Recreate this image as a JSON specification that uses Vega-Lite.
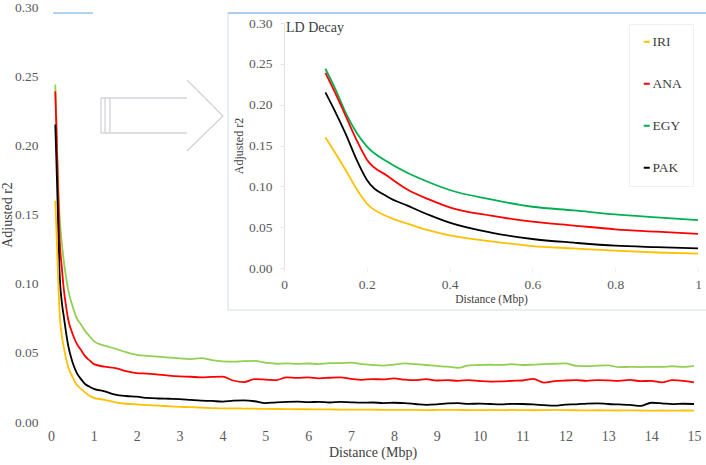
{
  "$schema": "https://vega.github.io/schema/vega-lite/v6.json",
  "width": 643,
  "height": 415,
  "autosize": {"type": "none"},
  "padding": {"left": 51, "top": 7, "right": 12, "bottom": 43},
  "background": "white",
  "config": {
    "view": {"stroke": null},
    "font": "Liberation Serif",
    "axis": {"grid": false, "labelFont": "Liberation Serif", "titleFont": "Liberation Serif", "titleFontWeight": "normal", "labelColor": "#595959", "titleColor": "#404040", "labelFlush": false},
    "legend": {"labelFont": "Liberation Serif"}
  },
  "datasets": {
    "ld": [
      {"s":"EGY","x":0.1,"y":0.244},{"s":"EGY","x":0.125,"y":0.218},{"s":"EGY","x":0.15,"y":0.189},{"s":"EGY","x":0.175,"y":0.166},{"s":"EGY","x":0.2,"y":0.149},{"s":"EGY","x":0.25,"y":0.130},{"s":"EGY","x":0.3,"y":0.116},{"s":"EGY","x":0.35,"y":0.105},{"s":"EGY","x":0.4,"y":0.0955},{"s":"EGY","x":0.5,"y":0.084},{"s":"EGY","x":0.6,"y":0.075},{"s":"EGY","x":0.7,"y":0.0705},{"s":"EGY","x":0.8,"y":0.0657},{"s":"EGY","x":0.9,"y":0.062},{"s":"EGY","x":1.0,"y":0.0585},
      {"s":"EGY","x":1.25,"y":0.0552},{"s":"EGY","x":1.5,"y":0.0530},{"s":"EGY","x":1.75,"y":0.0505},{"s":"EGY","x":2,"y":0.0486},{"s":"EGY","x":2.25,"y":0.0478},{"s":"EGY","x":2.5,"y":0.0472},{"s":"EGY","x":2.75,"y":0.0466},{"s":"EGY","x":3,"y":0.0460},{"s":"EGY","x":3.25,"y":0.0455},{"s":"EGY","x":3.5,"y":0.0462},{"s":"EGY","x":3.75,"y":0.0447},{"s":"EGY","x":4,"y":0.0438},{"s":"EGY","x":4.25,"y":0.0436},{"s":"EGY","x":4.5,"y":0.0440},{"s":"EGY","x":4.75,"y":0.0442},{"s":"EGY","x":5,"y":0.0430},{"s":"EGY","x":5.25,"y":0.0421},{"s":"EGY","x":5.5,"y":0.0424},{"s":"EGY","x":5.75,"y":0.0420},{"s":"EGY","x":6,"y":0.0423},{"s":"EGY","x":6.25,"y":0.0419},{"s":"EGY","x":6.5,"y":0.0426},{"s":"EGY","x":6.75,"y":0.0425},{"s":"EGY","x":7,"y":0.0429},{"s":"EGY","x":7.25,"y":0.0418},{"s":"EGY","x":7.5,"y":0.0412},{"s":"EGY","x":7.75,"y":0.0408},{"s":"EGY","x":8,"y":0.0415},{"s":"EGY","x":8.25,"y":0.0424},{"s":"EGY","x":8.5,"y":0.0418},{"s":"EGY","x":8.75,"y":0.0412},{"s":"EGY","x":9,"y":0.0405},{"s":"EGY","x":9.25,"y":0.0400},{"s":"EGY","x":9.5,"y":0.0392},{"s":"EGY","x":9.75,"y":0.0410},{"s":"EGY","x":10,"y":0.0412},{"s":"EGY","x":10.25,"y":0.0414},{"s":"EGY","x":10.5,"y":0.0413},{"s":"EGY","x":10.75,"y":0.0418},{"s":"EGY","x":11,"y":0.0412},{"s":"EGY","x":11.25,"y":0.0415},{"s":"EGY","x":11.5,"y":0.0419},{"s":"EGY","x":11.75,"y":0.0421},{"s":"EGY","x":12,"y":0.0424},{"s":"EGY","x":12.25,"y":0.0406},{"s":"EGY","x":12.5,"y":0.0404},{"s":"EGY","x":12.75,"y":0.0408},{"s":"EGY","x":13,"y":0.0410},{"s":"EGY","x":13.25,"y":0.0396},{"s":"EGY","x":13.5,"y":0.0399},{"s":"EGY","x":13.75,"y":0.0397},{"s":"EGY","x":14,"y":0.0399},{"s":"EGY","x":14.25,"y":0.0398},{"s":"EGY","x":14.5,"y":0.0403},{"s":"EGY","x":14.75,"y":0.0398},{"s":"EGY","x":15,"y":0.0405},
      {"s":"ANA","x":0.1,"y":0.239},{"s":"ANA","x":0.125,"y":0.213},{"s":"ANA","x":0.15,"y":0.185},{"s":"ANA","x":0.175,"y":0.157},{"s":"ANA","x":0.2,"y":0.133},{"s":"ANA","x":0.25,"y":0.1127},{"s":"ANA","x":0.3,"y":0.0955},{"s":"ANA","x":0.35,"y":0.084},{"s":"ANA","x":0.4,"y":0.0743},{"s":"ANA","x":0.5,"y":0.064},{"s":"ANA","x":0.6,"y":0.0567},{"s":"ANA","x":0.7,"y":0.052},{"s":"ANA","x":0.8,"y":0.0474},{"s":"ANA","x":0.9,"y":0.0445},{"s":"ANA","x":1.0,"y":0.0418},
      {"s":"ANA","x":1.25,"y":0.0400},{"s":"ANA","x":1.5,"y":0.0390},{"s":"ANA","x":1.75,"y":0.0368},{"s":"ANA","x":2,"y":0.0354},{"s":"ANA","x":2.25,"y":0.0350},{"s":"ANA","x":2.5,"y":0.0342},{"s":"ANA","x":2.75,"y":0.0335},{"s":"ANA","x":3,"y":0.0330},{"s":"ANA","x":3.25,"y":0.0327},{"s":"ANA","x":3.5,"y":0.0323},{"s":"ANA","x":3.75,"y":0.0326},{"s":"ANA","x":4,"y":0.0328},{"s":"ANA","x":4.25,"y":0.0300},{"s":"ANA","x":4.5,"y":0.0288},{"s":"ANA","x":4.75,"y":0.0310},{"s":"ANA","x":5,"y":0.0307},{"s":"ANA","x":5.25,"y":0.0303},{"s":"ANA","x":5.5,"y":0.0322},{"s":"ANA","x":5.75,"y":0.0319},{"s":"ANA","x":6,"y":0.0323},{"s":"ANA","x":6.25,"y":0.0316},{"s":"ANA","x":6.5,"y":0.0320},{"s":"ANA","x":6.75,"y":0.0323},{"s":"ANA","x":7,"y":0.0312},{"s":"ANA","x":7.25,"y":0.0305},{"s":"ANA","x":7.5,"y":0.0310},{"s":"ANA","x":7.75,"y":0.0308},{"s":"ANA","x":8,"y":0.0316},{"s":"ANA","x":8.25,"y":0.0306},{"s":"ANA","x":8.5,"y":0.0302},{"s":"ANA","x":8.75,"y":0.0310},{"s":"ANA","x":9,"y":0.0300},{"s":"ANA","x":9.25,"y":0.0302},{"s":"ANA","x":9.5,"y":0.0298},{"s":"ANA","x":9.75,"y":0.0303},{"s":"ANA","x":10,"y":0.0296},{"s":"ANA","x":10.25,"y":0.0292},{"s":"ANA","x":10.5,"y":0.0293},{"s":"ANA","x":10.75,"y":0.0298},{"s":"ANA","x":11,"y":0.0300},{"s":"ANA","x":11.25,"y":0.0312},{"s":"ANA","x":11.5,"y":0.0285},{"s":"ANA","x":11.75,"y":0.0296},{"s":"ANA","x":12,"y":0.0300},{"s":"ANA","x":12.25,"y":0.0302},{"s":"ANA","x":12.5,"y":0.0298},{"s":"ANA","x":12.75,"y":0.0303},{"s":"ANA","x":13,"y":0.0301},{"s":"ANA","x":13.25,"y":0.0298},{"s":"ANA","x":13.5,"y":0.0304},{"s":"ANA","x":13.75,"y":0.0296},{"s":"ANA","x":14,"y":0.0297},{"s":"ANA","x":14.25,"y":0.0286},{"s":"ANA","x":14.5,"y":0.0303},{"s":"ANA","x":14.75,"y":0.0298},{"s":"ANA","x":15,"y":0.0286},
      {"s":"PAK","x":0.1,"y":0.215},{"s":"PAK","x":0.125,"y":0.19},{"s":"PAK","x":0.15,"y":0.163},{"s":"PAK","x":0.175,"y":0.133},{"s":"PAK","x":0.2,"y":0.108},{"s":"PAK","x":0.25,"y":0.0873},{"s":"PAK","x":0.3,"y":0.076},{"s":"PAK","x":0.35,"y":0.065},{"s":"PAK","x":0.4,"y":0.0555},{"s":"PAK","x":0.5,"y":0.0433},{"s":"PAK","x":0.6,"y":0.0355},{"s":"PAK","x":0.7,"y":0.031},{"s":"PAK","x":0.8,"y":0.0273},{"s":"PAK","x":0.9,"y":0.0255},{"s":"PAK","x":1.0,"y":0.024},
      {"s":"PAK","x":1.25,"y":0.0222},{"s":"PAK","x":1.5,"y":0.0198},{"s":"PAK","x":1.75,"y":0.0188},{"s":"PAK","x":2,"y":0.0183},{"s":"PAK","x":2.25,"y":0.0174},{"s":"PAK","x":2.5,"y":0.0170},{"s":"PAK","x":2.75,"y":0.0168},{"s":"PAK","x":3,"y":0.0166},{"s":"PAK","x":3.25,"y":0.0160},{"s":"PAK","x":3.5,"y":0.0154},{"s":"PAK","x":3.75,"y":0.0152},{"s":"PAK","x":4,"y":0.0148},{"s":"PAK","x":4.25,"y":0.0154},{"s":"PAK","x":4.5,"y":0.0156},{"s":"PAK","x":4.75,"y":0.0150},{"s":"PAK","x":5,"y":0.0136},{"s":"PAK","x":5.25,"y":0.0142},{"s":"PAK","x":5.5,"y":0.0146},{"s":"PAK","x":5.75,"y":0.0147},{"s":"PAK","x":6,"y":0.0143},{"s":"PAK","x":6.25,"y":0.0146},{"s":"PAK","x":6.5,"y":0.0141},{"s":"PAK","x":6.75,"y":0.0145},{"s":"PAK","x":7,"y":0.0142},{"s":"PAK","x":7.25,"y":0.0140},{"s":"PAK","x":7.5,"y":0.0141},{"s":"PAK","x":7.75,"y":0.0137},{"s":"PAK","x":8,"y":0.0139},{"s":"PAK","x":8.25,"y":0.0136},{"s":"PAK","x":8.5,"y":0.0130},{"s":"PAK","x":8.75,"y":0.0124},{"s":"PAK","x":9,"y":0.0127},{"s":"PAK","x":9.25,"y":0.0134},{"s":"PAK","x":9.5,"y":0.0136},{"s":"PAK","x":9.75,"y":0.0131},{"s":"PAK","x":10,"y":0.0133},{"s":"PAK","x":10.25,"y":0.0130},{"s":"PAK","x":10.5,"y":0.0128},{"s":"PAK","x":10.75,"y":0.0131},{"s":"PAK","x":11,"y":0.0130},{"s":"PAK","x":11.25,"y":0.0127},{"s":"PAK","x":11.5,"y":0.0122},{"s":"PAK","x":11.75,"y":0.0118},{"s":"PAK","x":12,"y":0.0125},{"s":"PAK","x":12.25,"y":0.0128},{"s":"PAK","x":12.5,"y":0.0133},{"s":"PAK","x":12.75,"y":0.0135},{"s":"PAK","x":13,"y":0.0130},{"s":"PAK","x":13.25,"y":0.0127},{"s":"PAK","x":13.5,"y":0.0124},{"s":"PAK","x":13.75,"y":0.0116},{"s":"PAK","x":14,"y":0.0139},{"s":"PAK","x":14.25,"y":0.0135},{"s":"PAK","x":14.5,"y":0.0129},{"s":"PAK","x":14.75,"y":0.0132},{"s":"PAK","x":15,"y":0.0130},
      {"s":"IRI","x":0.1,"y":0.16},{"s":"IRI","x":0.125,"y":0.14},{"s":"IRI","x":0.15,"y":0.119},{"s":"IRI","x":0.175,"y":0.097},{"s":"IRI","x":0.2,"y":0.079},{"s":"IRI","x":0.25,"y":0.063},{"s":"IRI","x":0.3,"y":0.054},{"s":"IRI","x":0.35,"y":0.046},{"s":"IRI","x":0.4,"y":0.040},{"s":"IRI","x":0.5,"y":0.0327},{"s":"IRI","x":0.6,"y":0.0269},{"s":"IRI","x":0.7,"y":0.024},{"s":"IRI","x":0.8,"y":0.0212},{"s":"IRI","x":0.9,"y":0.019},{"s":"IRI","x":1.0,"y":0.0175},
      {"s":"IRI","x":1.25,"y":0.0160},{"s":"IRI","x":1.5,"y":0.0142},{"s":"IRI","x":1.75,"y":0.0132},{"s":"IRI","x":2,"y":0.0127},{"s":"IRI","x":2.25,"y":0.0122},{"s":"IRI","x":2.5,"y":0.0118},{"s":"IRI","x":2.75,"y":0.0114},{"s":"IRI","x":3,"y":0.0110},{"s":"IRI","x":3.25,"y":0.0107},{"s":"IRI","x":3.5,"y":0.0104},{"s":"IRI","x":3.75,"y":0.0101},{"s":"IRI","x":4,"y":0.0099},{"s":"IRI","x":4.25,"y":0.0099},{"s":"IRI","x":4.5,"y":0.0097},{"s":"IRI","x":4.75,"y":0.0096},{"s":"IRI","x":5,"y":0.0095},{"s":"IRI","x":5.25,"y":0.0094},{"s":"IRI","x":5.5,"y":0.0093},{"s":"IRI","x":5.75,"y":0.0092},{"s":"IRI","x":6,"y":0.0092},{"s":"IRI","x":6.25,"y":0.0091},{"s":"IRI","x":6.5,"y":0.0091},{"s":"IRI","x":6.75,"y":0.0090},{"s":"IRI","x":7,"y":0.0090},{"s":"IRI","x":7.25,"y":0.0089},{"s":"IRI","x":7.5,"y":0.0089},{"s":"IRI","x":7.75,"y":0.0088},{"s":"IRI","x":8,"y":0.0088},{"s":"IRI","x":8.25,"y":0.0087},{"s":"IRI","x":8.5,"y":0.0087},{"s":"IRI","x":8.75,"y":0.0086},{"s":"IRI","x":9,"y":0.0087},{"s":"IRI","x":9.25,"y":0.0088},{"s":"IRI","x":9.5,"y":0.0087},{"s":"IRI","x":9.75,"y":0.0086},{"s":"IRI","x":10,"y":0.0086},{"s":"IRI","x":10.25,"y":0.0087},{"s":"IRI","x":10.5,"y":0.0086},{"s":"IRI","x":10.75,"y":0.0087},{"s":"IRI","x":11,"y":0.0086},{"s":"IRI","x":11.25,"y":0.0085},{"s":"IRI","x":11.5,"y":0.0086},{"s":"IRI","x":11.75,"y":0.0087},{"s":"IRI","x":12,"y":0.0086},{"s":"IRI","x":12.25,"y":0.0085},{"s":"IRI","x":12.5,"y":0.0084},{"s":"IRI","x":12.75,"y":0.0085},{"s":"IRI","x":13,"y":0.0084},{"s":"IRI","x":13.25,"y":0.0083},{"s":"IRI","x":13.5,"y":0.0084},{"s":"IRI","x":13.75,"y":0.0083},{"s":"IRI","x":14,"y":0.0082},{"s":"IRI","x":14.25,"y":0.0083},{"s":"IRI","x":14.5,"y":0.0082},{"s":"IRI","x":14.75,"y":0.0083},{"s":"IRI","x":15,"y":0.0082}
    ],
    "box": [{"x": 4.13, "x2": 15.3, "y": 0.2957, "y2": 0.081}],
    "tops": [{"x": 0.05, "x2": 0.98, "y": 0.2957}, {"x": 4.13, "x2": 15.3, "y": 0.2957}],
    "arrow": [
      {"g": "top", "o": 1, "x": 1.166, "y": 0.2342}, {"g": "top", "o": 2, "x": 3.172, "y": 0.2342},
      {"g": "bot", "o": 1, "x": 1.166, "y": 0.2089}, {"g": "bot", "o": 2, "x": 3.172, "y": 0.2089},
      {"g": "v1", "o": 1, "x": 1.166, "y": 0.2342}, {"g": "v1", "o": 2, "x": 1.166, "y": 0.2089},
      {"g": "v2", "o": 1, "x": 1.26, "y": 0.2342}, {"g": "v2", "o": 2, "x": 1.26, "y": 0.2089},
      {"g": "v3", "o": 1, "x": 1.376, "y": 0.2342}, {"g": "v3", "o": 2, "x": 1.376, "y": 0.2089},
      {"g": "head", "o": 1, "x": 3.172, "y": 0.2472}, {"g": "head", "o": 2, "x": 4.012, "y": 0.2212}, {"g": "head", "o": 3, "x": 3.172, "y": 0.1959}
    ],
    "note": [{"x": 0.005, "y": 0.2939, "label": "LD Decay"}]
  },
  "resolve": {"scale": {"x": "independent", "y": "independent", "color": "independent"}},
  "layer": [
    {
      "layer": [
        {
          "data": {"name": "ld"},
          "mark": {"type": "line", "strokeWidth": 1.8, "interpolate": "monotone"},
          "encoding": {
            "x": {"field": "x", "type": "quantitative", "scale": {"domain": [0, 15], "nice": false},
              "axis": {"title": "Distance (Mbp)", "values": [0,1,2,3,4,5,6,7,8,9,10,11,12,13,14,15], "format": "d", "labelFlush": false, "labelFont": "Liberation Serif", "titleFont": "Liberation Serif", "domain": false, "ticks": false, "labelFontSize": 14, "titleFontSize": 14, "labelPadding": 7, "titlePadding": 2}},
            "y": {"field": "y", "type": "quantitative", "scale": {"domain": [0, 0.3], "nice": false},
              "axis": {"title": "Adjusted r2", "values": [0, 0.05, 0.1, 0.15, 0.2, 0.25, 0.3], "format": ".2f", "labelFlush": false, "labelFont": "Liberation Serif", "titleFont": "Liberation Serif", "domain": false, "ticks": false, "labelFontSize": 13.5, "titleFontSize": 14, "labelPadding": 13, "titlePadding": 0}},
            "color": {"field": "s", "type": "nominal", "scale": {"domain": ["IRI", "ANA", "EGY", "PAK"], "range": ["#FFC000", "#FF0000", "#92D050", "#000000"]}, "legend": null}
          }
        },
        {
          "data": {"name": "box"},
          "mark": {"type": "rect", "fill": "white", "stroke": "#e2e9f2", "strokeWidth": 1.5},
          "encoding": {
            "x": {"field": "x", "type": "quantitative", "scale": {"domain": [0, 15], "nice": false}},
            "x2": {"field": "x2"},
            "y": {"field": "y", "type": "quantitative", "scale": {"domain": [0, 0.3], "nice": false}},
            "y2": {"field": "y2"}
          }
        },
        {
          "data": {"name": "tops"},
          "mark": {"type": "rule", "stroke": "#9dc3e6", "strokeWidth": 1.5},
          "encoding": {
            "x": {"field": "x", "type": "quantitative", "scale": {"domain": [0, 15], "nice": false}},
            "x2": {"field": "x2"},
            "y": {"field": "y", "type": "quantitative", "scale": {"domain": [0, 0.3], "nice": false}}
          }
        },
        {
          "data": {"name": "arrow"},
          "mark": {"type": "line", "stroke": "#d2d3da", "strokeWidth": 1.3},
          "encoding": {
            "x": {"field": "x", "type": "quantitative", "scale": {"domain": [0, 15], "nice": false}},
            "y": {"field": "y", "type": "quantitative", "scale": {"domain": [0, 0.3], "nice": false}},
            "detail": {"field": "g"},
            "order": {"field": "o", "type": "quantitative"}
          }
        }
      ]
    },
    {
      "layer": [
        {
          "data": {"name": "ld"},
          "transform": [{"filter": "datum.x <= 1"}],
          "mark": {"type": "line", "strokeWidth": 1.8, "interpolate": "monotone"},
          "encoding": {
            "x": {"field": "x", "type": "quantitative", "scale": {"domain": [0, 1], "range": [233, 647], "nice": false},
              "axis": {"orient": "bottom", "offset": -154, "zindex": 1, "title": "Distance (Mbp)", "values": [0, 0.2, 0.4, 0.6, 0.8, 1], "format": "~g", "labelFlush": false, "labelFont": "Liberation Serif", "titleFont": "Liberation Serif", "domain": false, "ticks": true, "tickColor": "#eeeeee", "tickSize": 4, "labelFontSize": 13.5, "titleFontSize": 11.5, "labelPadding": 5, "titlePadding": 3}},
            "y": {"field": "y", "type": "quantitative", "scale": {"domain": [0, 0.3], "range": [261, 16], "nice": false},
              "axis": {"orient": "left", "offset": -233, "zindex": 1, "title": "Adjusted r2", "values": [0, 0.05, 0.1, 0.15, 0.2, 0.25, 0.3], "format": ".2f", "labelFlush": false, "labelFont": "Liberation Serif", "titleFont": "Liberation Serif", "domain": true, "domainColor": "#e4e4e4", "ticks": true, "tickColor": "#e4e4e4", "tickSize": 4, "labelFontSize": 13.5, "titleFontSize": 12, "labelPadding": 8, "titlePadding": 3}},
            "color": {"field": "s", "type": "nominal", "scale": {"domain": ["IRI", "ANA", "EGY", "PAK"], "range": ["#FFC000", "#FF0000", "#00B050", "#000000"]},
              "legend": {"orient": "none", "legendX": 578, "legendY": 17, "title": null, "symbolType": "stroke", "symbolStrokeWidth": 2, "symbolSize": 36, "labelFont": "Liberation Serif", "labelFontSize": 13.5, "labelColor": "#404040", "labelOffset": -1, "rowPadding": 27, "padding": 11, "strokeColor": "#eef0f3", "fillColor": "white", "zindex": 1}}
          }
        },
        {
          "data": {"name": "note"},
          "mark": {"type": "text", "align": "left", "baseline": "middle", "font": "Liberation Serif", "fontSize": 14, "color": "#404040"},
          "encoding": {
            "x": {"field": "x", "type": "quantitative", "scale": {"domain": [0, 1], "range": [233, 647], "nice": false}},
            "y": {"field": "y", "type": "quantitative", "scale": {"domain": [0, 0.3], "range": [261, 16], "nice": false}},
            "text": {"field": "label"}
          }
        }
      ]
    }
  ]
}
